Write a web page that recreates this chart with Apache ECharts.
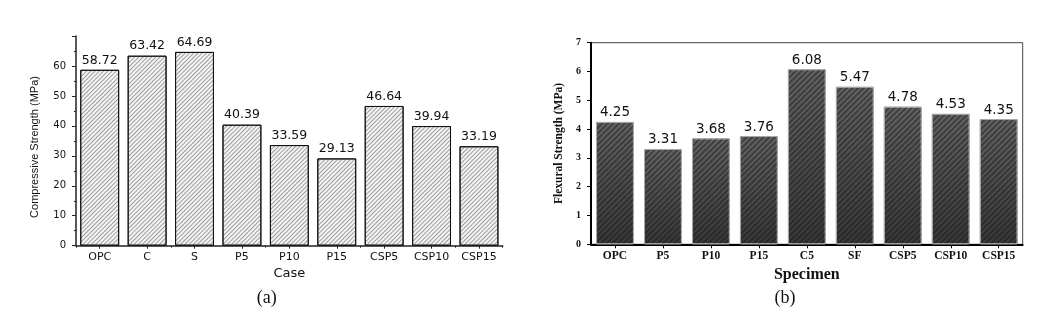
<!DOCTYPE html>
<html>
<head>
<meta charset="utf-8">
<script src="https://cdn.jsdelivr.net/npm/echarts@6/dist/echarts.min.js"></script>
<style>
  html, body { margin: 0; padding: 0; background: #fff; }
  #chart { width: 1052px; height: 327px; }
</style>
</head>
<body>
<div id="chart"></div>
<script>
// (a) compressive strength per mix
const compressiveCases = ['OPC', 'C', 'S', 'P5', 'P10', 'P15', 'CSP5', 'CSP10', 'CSP15'];
const compressiveValues = [58.72, 63.42, 64.69, 40.39, 33.59, 29.13, 46.64, 39.94, 33.19];
const compressiveTicks = [0, 10, 20, 30, 40, 50, 60, 70];

// (b) flexural strength per specimen
const flexuralSpecimens = ['OPC', 'P5', 'P10', 'P15', 'C5', 'SF', 'CSP5', 'CSP10', 'CSP15'];
const flexuralValues = [4.25, 3.31, 3.68, 3.76, 6.08, 5.47, 4.78, 4.53, 4.35];
const flexuralTicks = [0, 1, 2, 3, 4, 5, 6, 7];

const SANS = 'DejaVu Sans, Liberation Sans, sans-serif';
const SERIF = 'Liberation Serif, Times New Roman, serif';

const chart = echarts.init(document.getElementById('chart'), null, { renderer: 'canvas' });

const stepOf = t => t[1] - t[0];

chart.setOption({
  animation: false,
  backgroundColor: '#fff',
  grid: [
    { left: 76, top: 36, width: 426.7, height: 209.7 },
    { left: 591, top: 42.7, width: 431.7, height: 201.6, show: true, borderColor: '#444', borderWidth: 1 }
  ],
  xAxis: [
    {
      type: 'category', gridIndex: 0, data: compressiveCases,
      axisLine: { show: true, lineStyle: { color: '#222', width: 1.5 } },
      axisTick: { show: true, alignWithLabel: true, length: 3, lineStyle: { color: '#222' } },
      axisLabel: { margin: 6, fontFamily: SANS, fontSize: 11, color: '#111' },
      name: 'Case', nameLocation: 'middle', nameGap: 20,
      nameTextStyle: { fontFamily: SANS, fontSize: 13, color: '#111' }
    },
    {
      // short ticks on the category boundaries
      type: 'category', gridIndex: 0, data: compressiveCases, position: 'bottom',
      axisLine: { show: false },
      axisTick: { show: true, length: 2, lineStyle: { color: '#222' } },
      axisLabel: { show: false }
    },
    {
      type: 'category', gridIndex: 1, data: flexuralSpecimens,
      axisLine: { show: true, lineStyle: { color: '#000', width: 2 } },
      axisTick: { show: true, alignWithLabel: true, length: 4, lineStyle: { color: '#000' } },
      axisLabel: { margin: 6, fontFamily: SERIF, fontWeight: 'bold', fontSize: 11.5, color: '#111' },
      name: 'Specimen', nameLocation: 'middle', nameGap: 20,
      nameTextStyle: { fontFamily: SERIF, fontWeight: 'bold', fontSize: 16, color: '#111' }
    }
  ],
  yAxis: [
    {
      type: 'value', gridIndex: 0,
      min: compressiveTicks[0], max: compressiveTicks[compressiveTicks.length - 1],
      interval: stepOf(compressiveTicks),
      axisLine: { show: true, lineStyle: { color: '#222', width: 1.5 } },
      axisTick: { show: true, length: 4, lineStyle: { color: '#222' } },
      minorTick: { show: true, splitNumber: 2, length: 2, lineStyle: { color: '#222' } },
      splitLine: { show: false },
      axisLabel: { margin: 10, showMaxLabel: false, fontFamily: SANS, fontSize: 10, color: '#111' }
    },
    {
      type: 'value', gridIndex: 1,
      min: flexuralTicks[0], max: flexuralTicks[flexuralTicks.length - 1],
      interval: stepOf(flexuralTicks),
      axisLine: { show: true, lineStyle: { color: '#000', width: 2 } },
      axisTick: { show: true, length: 4, lineStyle: { color: '#000' } },
      splitLine: { show: false },
      axisLabel: { margin: 10, fontFamily: SERIF, fontWeight: 'bold', fontSize: 10, color: '#111' },
      name: 'Flexural Strength (MPa)', nameLocation: 'middle', nameGap: 26,
      nameTextStyle: { fontFamily: SERIF, fontWeight: 'bold', fontSize: 11.5, color: '#111' }
    }
  ],
  series: [
    {
      type: 'bar', xAxisIndex: 0, yAxisIndex: 0, data: compressiveValues,
      barCategoryGap: '18%',
      itemStyle: {
        color: '#f4f4f4', borderColor: '#111', borderWidth: 1,
        decal: {
          symbol: 'rect', symbolSize: 1, color: 'rgba(100,100,100,0.6)',
          dashArrayX: [1, 0], dashArrayY: [1, 2], rotation: -Math.PI / 4
        }
      },
      label: {
        show: true, position: 'top', distance: 3,
        fontFamily: SANS, fontSize: 12.5, color: '#111'
      }
    },
    {
      type: 'bar', xAxisIndex: 2, yAxisIndex: 1, data: flexuralValues,
      barCategoryGap: '21%',
      itemStyle: {
        color: new echarts.graphic.LinearGradient(0, 0, 0, 1, [
          { offset: 0, color: '#646464' },
          { offset: 1, color: '#383838' }
        ]),
        borderColor: '#a8a8a8', borderWidth: 1,
        decal: {
          symbol: 'rect', symbolSize: 1, color: 'rgba(20,20,20,0.45)',
          dashArrayX: [1, 0], dashArrayY: [2, 2], rotation: -Math.PI / 4
        }
      },
      label: {
        show: true, position: 'top', distance: 2,
        fontFamily: SANS, fontSize: 13.5, color: '#111'
      }
    }
  ],
  graphic: [
    {
      type: 'text', x: 35, y: 147, rotation: Math.PI / 2,
      style: {
        text: 'Compressive Strength (MPa)', align: 'center', verticalAlign: 'middle',
        font: '11px "Liberation Sans", Arial, sans-serif', fill: '#111'
      }
    },
    {
      type: 'text', x: 266.7, y: 298,
      style: { text: '(a)', align: 'center', verticalAlign: 'middle', font: '18px ' + SERIF, fill: '#111' }
    },
    {
      type: 'text', x: 785, y: 298,
      style: { text: '(b)', align: 'center', verticalAlign: 'middle', font: '18px ' + SERIF, fill: '#111' }
    }
  ]
});
</script>
</body>
</html>
